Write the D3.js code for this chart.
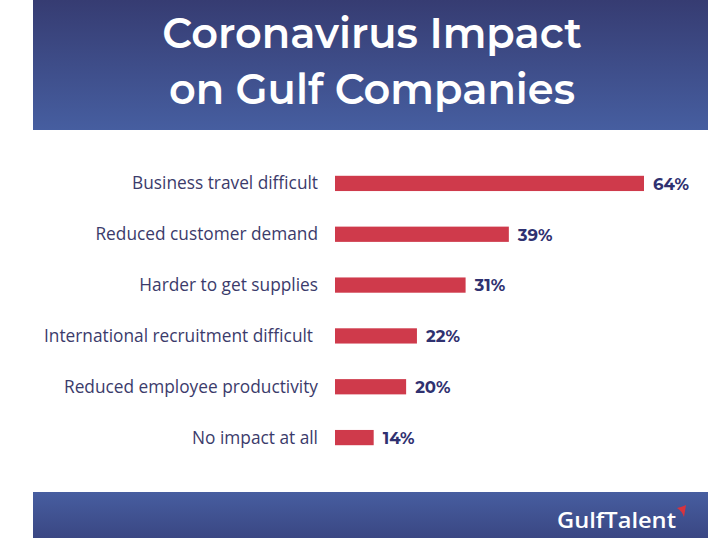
<!DOCTYPE html>
<html>
<head>
<meta charset="utf-8">
<script src="https://cdn.jsdelivr.net/npm/d3@7"></script>
<style>
  body { margin: 0; background: #fff; }
  svg { display: block; }
</style>
</head>
<body>
<div id="chart"></div>
<script>
// chart data
const categories = [
  "Business travel difficult",
  "Reduced customer demand",
  "Harder to get supplies",
  "International recruitment difficult",
  "Reduced employee productivity",
  "No impact at all"
];
const values = [64, 39, 31, 22, 20, 14];
const titleLines = ["Coronavirus Impact", "on Gulf Companies"];

const width = 717, height = 538;

const svg = d3.select("#chart")
  .append("svg")
  .attr("width", width)
  .attr("height", height);

const defs = svg.append("defs");

// header gradient
const topGrad = defs.append("linearGradient")
  .attr("id", "topGrad").attr("x1", 0).attr("y1", 0).attr("x2", 0).attr("y2", 1);
topGrad.append("stop").attr("offset", "0%").attr("stop-color", "#363c72");
topGrad.append("stop").attr("offset", "100%").attr("stop-color", "#465ea0");

// footer gradient
const botGrad = defs.append("linearGradient")
  .attr("id", "botGrad").attr("x1", 0).attr("y1", 0).attr("x2", 0).attr("y2", 1);
botGrad.append("stop").attr("offset", "0%").attr("stop-color", "#475ea0");
botGrad.append("stop").attr("offset", "100%").attr("stop-color", "#3a4783");

// header band
svg.append("rect")
  .attr("x", 33).attr("y", 0)
  .attr("width", 675).attr("height", 130)
  .attr("fill", "url(#topGrad)");

svg.append("g")
  .selectAll("text")
  .data(titleLines)
  .join("text")
  .attr("x", 372)
  .attr("y", (d, i) => 48 + i * 56)
  .attr("text-anchor", "middle")
  .attr("fill", "#fff")
  .style("font-family", "Montserrat, 'Open Sans', sans-serif")
  .style("font-weight", "600")
  .style("font-size", "41.5px")
  .text(d => d);

// footer band
svg.append("rect")
  .attr("x", 33).attr("y", 492)
  .attr("width", 675).attr("height", 46)
  .attr("fill", "url(#botGrad)");

svg.append("text")
  .attr("x", 557)
  .attr("y", 528)
  .attr("textLength", 119)
  .attr("lengthAdjust", "spacingAndGlyphs")
  .attr("fill", "#fff")
  .style("font-family", "'Open Sans', sans-serif")
  .style("font-weight", "600")
  .style("font-size", "22px")
  .text("GulfTalent");

// red tick over the logo
svg.append("path")
  .attr("d", "M677,508 Q682,507 686,505 L684,517 Q682,511 677,508 Z")
  .attr("fill", "#d8333e");

// scales
const barStart = 335;
const x = d3.scaleLinear().domain([0, 64]).range([298, 644]);
const y = d3.scaleBand()
  .domain(categories)
  .range([158, 463])
  .paddingInner(0.7)
  .paddingOuter(0.35);

const plot = svg.append("g");

plot.selectAll("rect.bar")
  .data(values)
  .join("rect")
  .attr("class", "bar")
  .attr("x", barStart)
  .attr("y", (d, i) => y(categories[i]))
  .attr("width", d => x(d) - barStart)
  .attr("height", y.bandwidth())
  .attr("fill", "#cf3a4b");

// category labels
plot.selectAll("text.cat")
  .data(categories)
  .join("text")
  .attr("class", "cat")
  .attr("x", (d, i) => i === 3 ? 313 : 318)
  .attr("y", d => y(d) + y.bandwidth() / 2)
  .attr("dy", "0.35em")
  .attr("text-anchor", "end")
  .attr("fill", "#3b3b6b")
  .style("font-family", "'Open Sans', sans-serif")
  .style("font-size", "17.3px")
  .text(d => d);

// value labels
plot.selectAll("text.val")
  .data(values)
  .join("text")
  .attr("class", "val")
  .attr("x", d => x(d) + 9)
  .attr("y", (d, i) => y(categories[i]) + y.bandwidth() / 2)
  .attr("dy", "0.38em")
  .attr("fill", "#2f3170")
  .style("font-family", "Montserrat, 'Open Sans', sans-serif")
  .style("font-weight", "700")
  .style("font-size", "16.5px")
  .text(d => d + "%");
</script>
</body>
</html>
